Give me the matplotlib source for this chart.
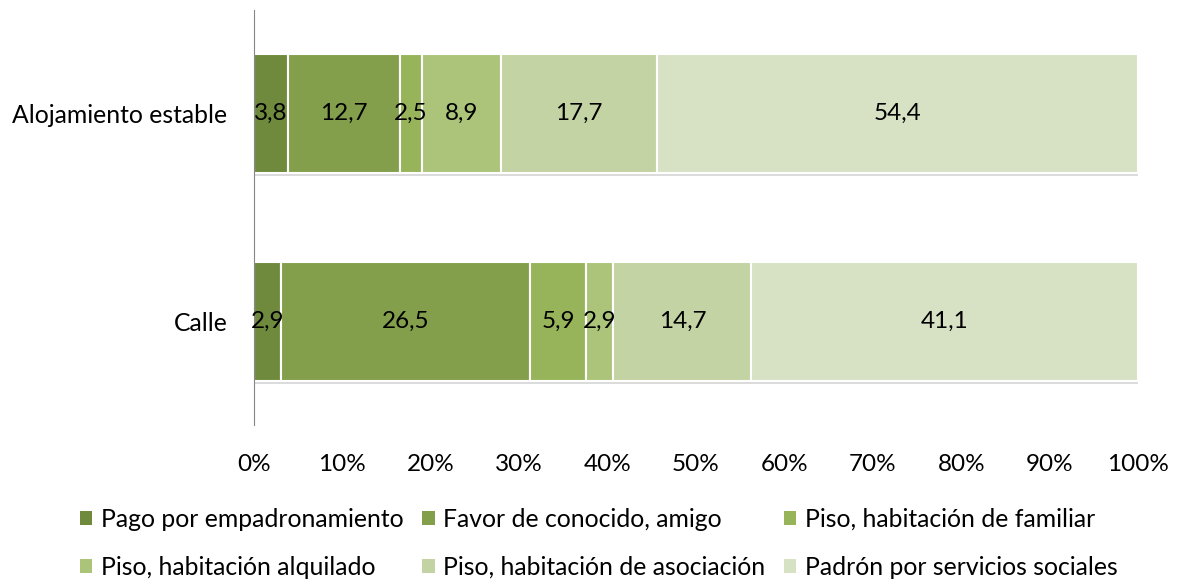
import matplotlib as mpl
mpl.use('Agg')
import matplotlib.pyplot as plt
import matplotlib.patheffects as pe
from matplotlib.patches import Patch
import numpy as np

plt.rcParams['font.family'] = ['Lato', 'DejaVu Sans']

categorias = ['Calle', 'Alojamiento estable']
series = ['Pago por empadronamiento', 'Favor de conocido, amigo',
          'Piso, habitación de familiar', 'Piso, habitación alquilado',
          'Piso, habitación de asociación', 'Padrón por servicios sociales']
calle = [2.9, 26.5, 5.9, 2.9, 14.7, 41.1]
alojamiento = [3.8, 12.7, 2.5, 8.9, 17.7, 54.4]
colores = ['#6f8a3d', '#849f4c', '#97b45b', '#abc47a', '#c3d3a3', '#d7e1c3']
xticks = [0, 10, 20, 30, 40, 50, 60, 70, 80, 90, 100]

valores = np.array([calle, alojamiento])
pct = valores / valores.sum(axis=1, keepdims=True) * 100

fig = plt.figure(figsize=(11.78, 5.82), dpi=100)
ax = fig.add_axes([254/1178, 1-425/582, 884/1178, 415/582])

sombra = [pe.SimplePatchShadow(offset=(0, -2), shadow_rgbFace='#999999', alpha=0.35), pe.Normal()]

y = np.arange(len(categorias))
left = np.zeros(len(categorias))
for i in range(len(series)):
    ax.barh(y, pct[:, i], left=left, height=0.575, color=colores[i],
            edgecolor='white', linewidth=1.5, label=series[i], path_effects=sombra)
    for j in range(len(categorias)):
        ax.text(left[j] + pct[j, i]/2, y[j], f'{valores[j, i]:.1f}'.replace('.', ','),
                ha='center', va='center', fontsize=17.5, color='black')
    left += pct[:, i]

ax.set_xlim(0, 100)
ax.set_ylim(-0.5, 1.5)
ax.set_xticks(xticks)
ax.set_xticklabels([f'{t}%' for t in xticks])
ax.set_yticks(y)
ax.set_yticklabels(categorias)
ax.tick_params(axis='x', length=0, pad=21, labelsize=17.5)
ax.tick_params(axis='y', length=0, pad=19, labelsize=17.8)
for s in ['top', 'right', 'bottom']:
    ax.spines[s].set_visible(False)
ax.spines['left'].set_color('#868686')

# orden por filas como en el original
orden = [0, 3, 1, 4, 2, 5]
handles = [Patch(facecolor=colores[k], edgecolor='none') for k in orden]
labels = [series[k] for k in orden]
fig.legend(handles, labels, loc='upper left', bbox_to_anchor=(80/1178, 1-508/582),
           ncol=3, frameon=False, fontsize=17.8, handlelength=0.5, handleheight=0.5,
           handletextpad=0.35, columnspacing=0.75, labelspacing=1.0,
           borderpad=0, borderaxespad=0)

plt.savefig('out.png')
